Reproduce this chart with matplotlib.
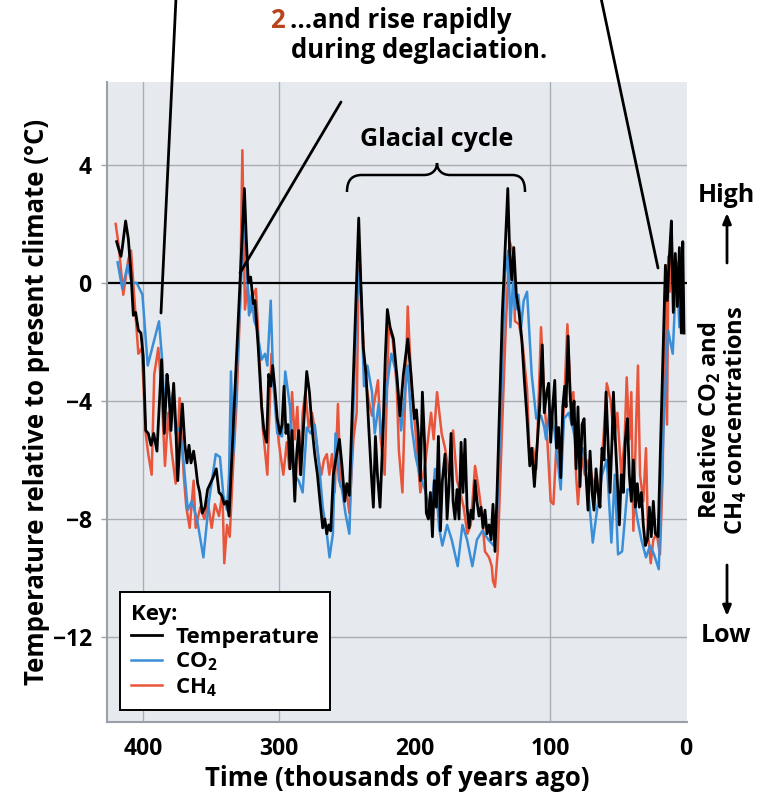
import matplotlib
matplotlib.use("Agg")
import matplotlib.pyplot as plt
from matplotlib.path import Path
from matplotlib.patches import PathPatch

plt.rcParams['font.family'] = ['Open Sans', 'DejaVu Sans']
plt.rcParams['font.weight'] = 'bold'
plt.rcParams['mathtext.fontset'] = 'custom'
plt.rcParams['mathtext.rm'] = 'Open Sans:bold'
plt.rcParams['mathtext.bf'] = 'Open Sans:bold'

# thousands of years ago / degrees C relative to present
temp_age = [419.4, 418.2, 416.2, 415.2, 412.8, 410.8, 408.8, 407.1, 405.4, 403.4, 401.5, 399.8,
            398.0, 396.1, 394.1, 392.1, 389.7, 386.3, 384.3, 382.3, 380.9, 379.4, 377.4, 375.9,
            374.4, 372.7, 371.0, 369.1, 367.6, 366.1, 364.6, 362.7, 361.2, 359.7, 358.2, 356.3,
            354.3, 352.4, 350.4, 348.4, 346.0, 344.0, 342.1, 340.1, 338.2, 336.6, 325.3, 323.9,
            322.4, 320.7, 318.7, 317.5, 315.1, 312.6, 310.9, 308.9, 307.4, 305.9, 304.5, 302.8,
            301.1, 299.1, 297.6, 296.1, 294.7, 293.2, 291.7, 290.2, 288.2, 286.8, 285.3, 283.8,
            281.9, 279.4, 277.4, 275.5, 273.5, 271.5, 269.6, 267.6, 266.1, 264.6, 263.2, 261.7,
            259.8, 257.3, 255.3, 253.4, 251.4, 249.9, 248.0, 241.1, 239.6, 237.7, 235.7, 233.7,
            231.8, 230.3, 228.8, 227.3, 225.4, 223.4, 221.5, 220.0, 218.0, 215.5, 213.1, 210.7,
            208.2, 205.0, 202.6, 200.1, 198.6, 197.2, 195.7, 194.2, 192.7, 191.3, 189.8, 188.3,
            186.8, 185.4, 183.9, 182.4, 180.9, 179.5, 177.5, 176.0, 174.6, 173.1, 171.6, 170.2,
            168.7, 167.2, 165.7, 164.3, 162.8, 161.3, 159.8, 158.4, 156.9, 155.4, 154.0, 152.5,
            151.0, 149.5, 148.1, 146.6, 145.1, 143.6, 142.2, 140.7, 139.2, 135.3, 131.3, 129.9,
            128.4, 126.9, 125.0, 123.0, 121.0, 119.1, 117.1, 115.1, 113.7, 111.7, 109.8, 107.8,
            105.9, 104.4, 102.6, 101.2, 99.7, 98.2, 96.7, 95.3, 93.8, 92.3, 90.8, 89.4,
            88.4, 86.9, 85.5, 84.0, 82.5, 81.0, 79.6, 78.1, 76.6, 75.1, 73.7, 72.2,
            70.7, 69.2, 67.8, 66.3, 64.8, 63.4, 61.9, 60.4, 58.9, 57.5, 56.0, 54.5,
            53.5, 52.1, 50.6, 49.1, 47.7, 46.2, 44.7, 43.2, 41.8, 40.3, 38.8, 37.3,
            35.9, 34.4, 32.9, 31.5, 30.0, 28.5, 27.0, 25.6, 24.1, 22.6, 20.6, 15.2,
            13.8, 12.3, 10.8, 9.4, 7.9, 6.4, 4.9, 3.5, 2.4, 1.5]
temp = [1.4, 1.2, 0.9, 1.2, 2.1, 1.5, 0.3, -1.1, -1.0, -1.6, -1.7, -2.5,
        -5.0, -5.1, -5.5, -5.1, -5.7, -2.6, -5.1, -3.1, -3.7, -5.0, -3.4, -4.8,
        -6.7, -5.3, -4.1, -5.5, -6.1, -5.5, -6.1, -5.7, -6.2, -6.8, -7.1, -7.8,
        -7.6, -7.0, -6.8, -6.6, -6.3, -7.1, -7.2, -7.5, -7.4, -7.9, 3.2, 1.5,
        0.0, 0.2, -0.7, -0.6, -2.2, -4.2, -5.0, -5.4, -3.1, -3.5, -2.8, -3.6,
        -4.6, -5.1, -4.8, -3.5, -5.1, -4.8, -6.3, -5.0, -7.4, -5.8, -5.0, -6.5,
        -5.0, -3.0, -3.7, -4.9, -5.8, -6.5, -7.4, -8.3, -8.0, -8.5, -8.2, -8.4,
        -6.5, -5.8, -5.3, -6.2, -7.4, -6.8, -7.2, 2.2, 0.1, -2.2, -3.1, -4.9,
        -6.5, -7.6, -5.2, -6.5, -7.6, -5.3, -2.5, -0.9, -1.5, -1.9, -3.1, -4.5,
        -3.1, -1.9, -3.1, -4.6, -4.3, -5.1, -6.7, -3.7, -5.3, -7.8, -8.0, -7.1,
        -8.6, -6.7, -7.6, -5.2, -8.4, -6.7, -5.8, -8.0, -6.9, -5.1, -7.4, -8.0,
        -7.0, -8.0, -5.4, -7.1, -5.3, -7.6, -8.3, -7.7, -8.0, -6.7, -7.4, -7.9,
        -7.6, -8.3, -7.7, -8.5, -8.2, -8.7, -7.5, -9.1, -7.1, -1.0, 3.2, 1.0,
        0.1, 1.2, -0.4, -1.0, -1.9, -3.3, -4.6, -6.2, -5.6, -6.9, -5.6, -4.2,
        -2.1, -4.4, -3.7, -3.4, -5.4, -4.2, -3.3, -5.6, -4.9, -6.6, -4.2, -3.5,
        -4.2, -1.8, -3.7, -4.8, -4.0, -6.3, -4.2, -6.9, -4.8, -4.6, -6.5, -7.7,
        -5.7, -7.1, -7.7, -6.3, -7.1, -7.6, -5.6, -6.0, -3.7, -5.3, -7.1, -5.3,
        -3.7, -5.3, -6.7, -8.2, -6.5, -7.1, -5.3, -4.6, -6.5, -7.4, -6.0, -7.6,
        -6.8, -7.6, -7.1, -8.2, -8.9, -8.7, -7.6, -8.6, -7.4, -8.5, -8.6, 0.6,
        -0.6, 0.9, 2.1, -1.0, 1.0, -0.8, 1.2, -1.7, 1.4, -1.7]

co2_age = [418.7, 415.2, 411.3, 408.3, 404.6, 400.4, 396.5, 388.2, 385.7, 384.3, 382.3, 380.3,
           377.9, 375.9, 372.9, 370.0, 367.0, 364.1, 360.2, 355.5, 351.4, 346.4, 343.3, 340.8,
           338.1, 336.6, 335.2, 333.4, 330.2, 326.8, 325.3, 323.9, 321.9, 319.9, 318.0, 316.3,
           312.6, 310.1, 308.4, 305.9, 304.0, 301.1, 297.6, 295.2, 291.7, 288.8, 285.3, 282.4,
           279.4, 276.5, 273.5, 270.6, 267.6, 264.6, 262.6, 260.1, 258.2, 255.6, 253.4, 250.9,
           248.0, 245.0, 242.6, 240.1, 237.2, 234.7, 231.3, 229.3, 226.4, 223.9, 220.5, 217.1,
           213.1, 209.9, 205.0, 202.0, 199.1, 196.2, 192.3, 187.8, 184.9, 181.9, 179.5, 176.0,
           172.6, 168.2, 164.7, 161.3, 157.4, 154.0, 150.0, 145.6, 141.7, 139.7, 136.3, 133.3,
           130.9, 129.4, 127.4, 125.5, 123.5, 121.5, 119.6, 117.1, 113.7, 110.3, 106.8, 104.4,
           103.1, 100.2, 96.7, 92.3, 89.9, 86.4, 83.0, 79.6, 76.1, 72.2, 68.7, 65.3,
           61.9, 58.4, 55.0, 52.5, 50.1, 47.1, 43.2, 39.3, 36.3, 32.9, 29.5, 26.5,
           23.6, 20.1, 16.7, 13.3, 9.8, 6.9, 4.9, 2.9]
co2 = [0.7, -0.2, 0.6, 0.0, 0.0, -0.4, -2.8, -1.3, -2.7, -4.4, -3.1, -4.2,
       -3.7, -5.1, -4.9, -6.1, -7.7, -7.4, -8.0, -9.3, -7.4, -5.8, -5.9, -7.2,
       -7.7, -6.5, -3.0, -5.8, -2.4, 1.0, 2.6, 0.9, -1.1, -0.4, -1.3, -1.5,
       -2.6, -2.4, -2.8, -0.6, -3.4, -5.1, -5.2, -3.0, -4.2, -6.5, -6.7, -7.1,
       -4.9, -5.1, -4.8, -6.0, -7.6, -8.5, -9.3, -8.5, -5.1, -6.7, -7.0, -7.8,
       -8.5, -4.2, -0.8, 0.6, -3.5, -2.8, -3.7, -5.1, -4.1, -5.3, -3.6, -2.4,
       -3.1, -5.0, -2.8, -4.9, -5.9, -6.5, -7.0, -7.9, -6.3, -8.3, -8.9, -8.2,
       -8.7, -9.6, -8.2, -8.7, -9.6, -8.7, -8.4, -8.7, -8.9, -8.5, -4.2, 0.3,
       1.1, -1.5, 0.1, -0.9, -0.4, -1.5, -0.6, -0.3, -3.1, -4.6, -4.5, -4.9,
       -5.3, -4.2, -5.1, -7.0, -4.6, -4.4, -5.0, -5.8, -5.6, -7.0, -8.8, -7.6,
       -6.5, -6.0, -8.8, -6.5, -9.2, -9.1, -7.0, -7.0, -7.9, -8.7, -9.3, -8.9,
       -9.2, -9.7, -5.1, -1.6, -2.4, 0.7, -1.5, -1.3]

ch4_age = [420.1, 417.7, 414.5, 410.8, 408.8, 406.4, 403.4, 400.9, 398.0, 396.1, 393.6, 391.7,
           388.7, 386.3, 383.8, 381.4, 378.9, 375.9, 373.0, 370.0, 368.1, 365.6, 362.7, 361.2,
           357.8, 354.8, 352.4, 349.4, 347.0, 344.0, 341.5, 340.1, 338.1, 336.1, 333.4, 331.0,
           328.5, 326.8, 324.9, 322.9, 320.9, 318.7, 316.8, 314.3, 311.8, 308.4, 305.4, 302.5,
           300.0, 296.6, 294.1, 292.2, 290.2, 288.2, 286.3, 284.3, 282.4, 280.4, 277.9, 275.5,
           273.0, 270.6, 268.6, 266.7, 264.6, 262.7, 260.8, 258.8, 256.4, 254.4, 251.9, 249.9,
           248.0, 245.0, 242.6, 241.1, 239.2, 236.7, 233.7, 231.3, 228.4, 226.9, 224.9, 222.0,
           219.0, 216.1, 213.1, 211.5, 208.9, 205.0, 202.0, 199.1, 195.7, 191.8, 187.8, 185.9,
           183.4, 180.0, 177.5, 174.6, 171.6, 168.7, 166.3, 163.8, 161.1, 158.6, 155.4, 153.0,
           150.5, 148.1, 145.1, 143.1, 142.2, 140.7, 138.7, 135.8, 132.8, 129.9, 127.9, 126.0,
           123.0, 120.1, 117.1, 115.1, 112.7, 110.3, 106.8, 104.1, 102.2, 99.7, 97.7, 94.8,
           92.3, 89.9, 87.4, 84.9, 83.0, 81.0, 79.6, 77.1, 74.6, 71.7, 69.2, 66.8,
           63.8, 60.9, 58.4, 55.5, 53.0, 50.6, 47.7, 45.2, 43.7, 41.8, 40.3, 38.8,
           36.8, 35.4, 33.9, 31.5, 29.5, 28.0, 26.0, 24.1, 21.6, 19.2, 17.2, 16.0,
           15.0, 14.0, 13.0, 12.0, 10.5, 9.0, 7.5, 6.0, 4.5, 3.0]
ch4 = [2.0, 1.2, -0.4, 0.8, 1.1, -0.5, -2.4, -2.2, -5.1, -5.8, -6.5, -3.1,
       -2.2, -3.7, -6.2, -4.4, -5.7, -6.8, -3.9, -6.5, -7.6, -8.3, -6.7, -8.3,
       -7.6, -8.0, -7.4, -8.3, -7.5, -7.9, -7.1, -9.5, -8.2, -8.6, -6.0, -4.0,
       -0.8, 4.5, -0.9, -0.1, -1.0, -0.4, -0.2, -2.4, -4.9, -6.5, -2.4, -4.0,
       -5.4, -6.5, -5.4, -6.3, -3.7, -5.3, -4.2, -6.5, -4.4, -3.7, -4.9, -4.4,
       -5.1, -6.0, -6.5, -6.0, -5.8, -6.5, -5.8, -7.1, -4.1, -6.9, -6.9, -7.1,
       -7.8, -5.3, -4.4, 0.6, -0.5, -3.1, -4.0, -4.5, -3.7, -3.3, -5.3, -6.5,
       -1.5, -1.9, -3.5, -5.7, -7.1, -0.8, -3.7, -5.1, -7.1, -6.0, -4.4, -5.3,
       -3.7, -5.1, -5.6, -6.5, -5.0, -6.7, -7.1, -7.6, -8.5, -8.2, -6.2, -6.9,
       -7.8, -9.1, -9.3, -9.6, -10.1, -10.3, -9.1, -5.3, -1.5, 1.4, 1.1, -1.3,
       -1.4, -2.2, -3.6, -6.0, -5.6, -6.3, -1.5, -4.2, -5.3, -7.4, -7.5, -4.9,
       -6.0, -4.2, -1.4, -4.0, -3.7, -6.5, -7.5, -5.9, -6.5, -6.0, -6.6, -7.1,
       -6.8, -5.3, -3.4, -4.0, -5.3, -4.4, -6.5, -5.3, -3.2, -5.3, -3.7, -8.4,
       -4.8, -2.8, -6.5, -7.4, -5.6, -8.5, -9.5, -8.7, -8.5, -9.2, -6.5, -1.5,
       0.6, -4.8, 0.9, -0.3, 1.2, -0.5, 0.8, -0.8, 0.6, -1.0]

x_ticks = [400, 300, 200, 100, 0]
x_grid = [400, 300, 100]
y_ticks = [4, 0, -4, -8, -12]
y_ticklabels = ['4', '0', '\u22124', '\u22128', '\u221212']
y_grid = [4, -4, -8, -12]

W, H = 762, 798
fig = plt.figure(figsize=(W / 100, H / 100), dpi=100)
ax = fig.add_axes([107 / W, 1 - 722 / H, 580 / W, 640 / H])
ax.set_facecolor('#e6eaef')


def fp(x, y):
    # image pixel position -> figure fraction
    return (x / W, 1 - y / H)


for g in x_grid:
    ax.axvline(g, color='#a6adb8', lw=1.0, zorder=0.5)
for g in y_grid:
    ax.axhline(g, color='#a9adb2', lw=1.0, zorder=0.5)
ax.axhline(0, color='black', lw=1.6, zorder=1)

ax.plot(ch4_age, ch4, color='#e8553b', lw=1.8, zorder=2, label='CH$_{4}$')
ax.plot(co2_age, co2, color='#3a8ed8', lw=1.8, zorder=2.1, label='CO$_{2}$')
ax.plot(temp_age, temp, color='black', lw=2.0, zorder=3, label='Temperature')

ax.set_xlim(426.5, -0.7)
ax.set_ylim(-14.88, 6.81)
ax.set_xticks(x_ticks)
ax.set_yticks(y_ticks)
ax.set_yticklabels(y_ticklabels)
ax.tick_params(axis='both', labelsize=16.5, colors='#9aa0a8', labelcolor='black', length=4, width=1)
ax.tick_params(axis='x', length=0, pad=11)
ax.tick_params(axis='y', pad=7)
for lab in ax.get_xticklabels() + ax.get_yticklabels():
    lab.set_fontweight('bold')
for s in ['top', 'right']:
    ax.spines[s].set_visible(False)
for s in ['left', 'bottom']:
    ax.spines[s].set_color('#9aa0a8')
    ax.spines[s].set_linewidth(1.5)

ax.set_xlabel('Time (thousands of years ago)', fontsize=18.5, fontweight='bold', labelpad=3)
ax.set_ylabel('Temperature relative to present climate (\u00b0C)', fontsize=18.5,
              fontweight='bold', labelpad=2)

h, l = ax.get_legend_handles_labels()
order = [2, 1, 0]
leg = ax.legend([h[i] for i in order], [l[i] for i in order], title='Key:', loc='lower left',
                bbox_to_anchor=(0.022, 0.019), borderaxespad=0, fontsize=16, title_fontsize=16,
                frameon=True, fancybox=False, edgecolor='black', framealpha=1,
                handlelength=1.4, handletextpad=0.6, labelspacing=0.12, borderpad=0.5,
                alignment='left')
leg.get_frame().set_linewidth(1.4)
leg.get_title().set_fontweight('bold')
for t in leg.get_texts():
    t.set_fontweight('bold')

# annotation pointer lines
ann_kw = dict(arrowprops=dict(arrowstyle='-', lw=2.0, color='black', shrinkA=0, shrinkB=0),
              xycoords='figure fraction', textcoords='figure fraction', annotation_clip=False)
ax.annotate('', xy=fp(161, 313), xytext=fp(176, -2), **ann_kw)
ax.annotate('', xy=fp(240, 273), xytext=fp(341, 102), **ann_kw)
ax.annotate('', xy=fp(658, 268), xytext=fp(601, -2), **ann_kw)

# top note
fig.text(*fp(285, 21), '2', color='#b8441c', fontsize=18.5, fontweight='bold', ha='right', va='center')
fig.text(*fp(290, 21), '\u2026and rise rapidly', fontsize=18.5, fontweight='bold', ha='left', va='center')
fig.text(*fp(291, 51), 'during deglaciation.', fontsize=18.5, fontweight='bold', ha='left', va='center')

# glacial cycle brace
fig.text(*fp(437, 140), 'Glacial cycle', fontsize=18, fontweight='bold', ha='center', va='center')
pts = [(347, 192), (347, 180), (352, 175), (362, 175), (424, 175), (432, 175), (437, 170), (437, 163),
       (437, 170), (442, 175), (450, 175), (512, 175), (521, 175), (525, 180), (525, 192)]
codes = [Path.MOVETO, Path.CURVE4, Path.CURVE4, Path.CURVE4, Path.LINETO, Path.CURVE4, Path.CURVE4,
         Path.CURVE4, Path.CURVE4, Path.CURVE4, Path.CURVE4, Path.LINETO, Path.CURVE4, Path.CURVE4,
         Path.CURVE4]
brace = PathPatch(Path([fp(*p) for p in pts], codes), transform=fig.transFigure,
                  fill=False, lw=1.8, color='black')
fig.add_artist(brace)

# right side scale
fig.text(*fp(726, 195), 'High', fontsize=18, fontweight='bold', ha='center', va='center')
fig.text(*fp(726, 635), 'Low', fontsize=18, fontweight='bold', ha='center', va='center')
arr_kw = dict(arrowprops=dict(arrowstyle='-|>,head_length=0.6,head_width=0.25', lw=2.0,
                              color='black', shrinkA=0, shrinkB=0),
              xycoords='figure fraction', textcoords='figure fraction')
ax.annotate('', xy=fp(727, 213), xytext=fp(727, 263), **arr_kw)
ax.annotate('', xy=fp(727, 616), xytext=fp(727, 565), **arr_kw)
fig.text(*fp(723, 420), 'Relative CO$_{2}$ and\nCH$_{4}$ concentrations', fontsize=17,
         fontweight='bold', rotation=90, ha='center', va='center', multialignment='center',
         linespacing=1.0)

fig.savefig('out.png', dpi=100)
